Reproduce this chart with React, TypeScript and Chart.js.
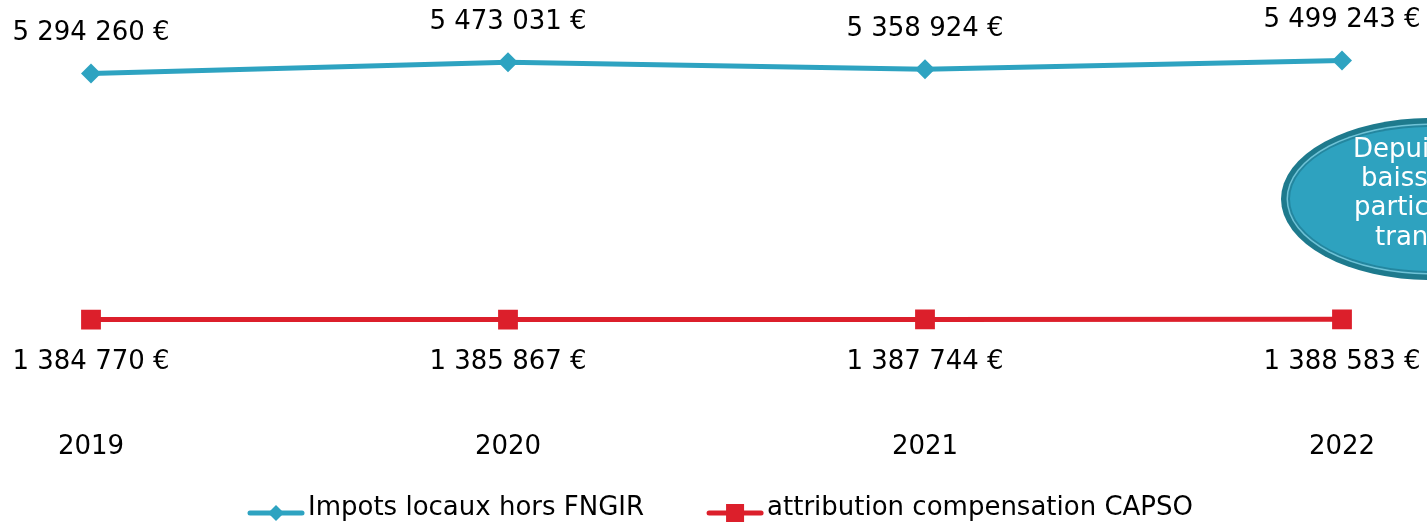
import React, { useEffect, useRef } from "react";
import { Chart, registerables } from "chart.js";

Chart.register(...registerables);

const years = ["2019", "2020", "2021", "2022"];
const impotsLocaux = [5294260, 5473031, 5358924, 5499243];
const attributionCapso = [1384770, 1385867, 1387744, 1388583];
const seriesNames = ["Impots locaux hors FNGIR", "attribution compensation CAPSO"];
const seriesColors = ["#2ea3c1", "#dc1f2b"];
const bubbleLines = ["Depuis 2019, la", "baisse des", "participations", "transférées"];

const FONT = "DejaVu Sans";

function fmt(n: number): string {
  return n.toString().replace(/\B(?=(\d{3})+(?!\d))/g, " ") + " €";
}

const dataLabelPlugin = {
  id: "dataLabels",
  afterDatasetsDraw(chart: any) {
    const ctx = chart.ctx;
    ctx.save();
    ctx.font = `26px "${FONT}"`;
    ctx.fillStyle = "#000";
    ctx.textAlign = "center";
    ctx.textBaseline = "middle";
    chart.data.datasets.forEach((ds: any, di: number) => {
      const meta = chart.getDatasetMeta(di);
      meta.data.forEach((el: any, i: number) => {
        const off = di === 0 ? -40 : 43;
        ctx.fillText(fmt(ds.data[i]), el.x, el.y + off);
      });
    });
    ctx.restore();
  },
};

const legendPlugin = {
  id: "customLegend",
  afterDraw(chart: any) {
    const ctx = chart.ctx;
    const area = chart.chartArea;
    ctx.save();
    ctx.font = `26px "${FONT}"`;
    ctx.textBaseline = "middle";
    ctx.textAlign = "left";
    const markW = 56;
    const gapText = 4;
    const gapItems = 63;
    const widths = seriesNames.map((s) => markW + gapText + ctx.measureText(s).width);
    const total = widths.reduce((a, b) => a + b, 0) + gapItems * (widths.length - 1);
    let x = (area.left + area.right) / 2 + 4 - total / 2;
    const yLine = 513;
    const yText = 508;
    seriesNames.forEach((name, i) => {
      const col = seriesColors[i];
      ctx.strokeStyle = col;
      ctx.lineWidth = 5;
      ctx.lineCap = "round";
      ctx.beginPath();
      ctx.moveTo(x + 2, yLine);
      ctx.lineTo(x + markW - 2, yLine);
      ctx.stroke();
      ctx.fillStyle = col;
      const cx = x + markW / 2;
      if (i === 0) {
        const r = 8;
        ctx.beginPath();
        ctx.moveTo(cx, yLine - r);
        ctx.lineTo(cx + r, yLine);
        ctx.lineTo(cx, yLine + r);
        ctx.lineTo(cx - r, yLine);
        ctx.closePath();
        ctx.fill();
      } else {
        const s = 9;
        ctx.fillRect(cx - s, yLine - s, 2 * s, 2 * s);
      }
      ctx.fillStyle = "#000";
      ctx.fillText(name, x + markW + gapText, yText);
      x += widths[i] + gapItems;
    });
    ctx.restore();
  },
};

const bubblePlugin = {
  id: "bubble",
  afterDraw(chart: any) {
    const ctx = chart.ctx;
    const cx = 1430;
    const cy = 199;
    const rx = 149;
    const ry = 81;
    ctx.save();
    const ell = (dx: number) => {
      ctx.beginPath();
      ctx.ellipse(cx, cy, rx - dx, ry - dx, 0, 0, Math.PI * 2);
    };
    ell(0);
    ctx.fillStyle = "#1e7a8d";
    ctx.fill();
    ell(5.5);
    ctx.fillStyle = "#6fc2d6";
    ctx.fill();
    ell(7);
    ctx.fillStyle = "#23869f";
    ctx.fill();
    ell(9);
    ctx.fillStyle = "#2ea2bf";
    ctx.fill();
    ctx.font = `26px "${FONT}"`;
    ctx.fillStyle = "#fff";
    ctx.textAlign = "left";
    ctx.textBaseline = "alphabetic";
    const xs = [1353, 1361, 1354, 1375];
    const dys = [-42, -13, 16, 46];
    bubbleLines.forEach((t, i) => ctx.fillText(t, xs[i], cy + dys[i]));
    ctx.restore();
  },
};

export default function App() {
  const ref = useRef<HTMLCanvasElement>(null);
  useEffect(() => {
    if (!ref.current) return;
    Chart.defaults.font.family = FONT;
    Chart.defaults.font.size = 26;
    Chart.defaults.color = "#000";
    const chart = new Chart(ref.current, {
      type: "line",
      data: {
        labels: years,
        datasets: [
          {
            label: seriesNames[0],
            data: impotsLocaux,
            borderColor: seriesColors[0],
            backgroundColor: seriesColors[0],
            borderWidth: 5,
            pointStyle: "rectRot",
            pointRadius: 10,
            pointBorderWidth: 0,
            tension: 0,
          },
          {
            label: seriesNames[1],
            data: attributionCapso,
            borderColor: seriesColors[1],
            backgroundColor: seriesColors[1],
            borderWidth: 5,
            pointStyle: "rect",
            pointRadius: 14,
            pointBorderWidth: 0,
            tension: 0,
          },
        ],
      },
      options: {
        animation: false,
        responsive: true,
        maintainAspectRatio: false,
        layout: { padding: { left: 91, right: 85, top: 29, bottom: 34 } },
        plugins: { legend: { display: false }, tooltip: { enabled: false } },
        scales: {
          x: {
            offset: false,
            grid: { display: false, drawTicks: false },
            border: { display: false },
            ticks: { padding: 25, color: "#000", font: { size: 26, family: FONT } },
          },
          y: {
            display: false,
            min: 0,
            max: 6000000,
          },
        },
      },
      plugins: [dataLabelPlugin, legendPlugin, bubblePlugin],
    });
    return () => chart.destroy();
  }, []);
  return (
    <div style={{ position: "absolute", left: 0, top: 0, width: 1427, height: 522, background: "#fff" }}>
      <canvas ref={ref} />
    </div>
  );
}
